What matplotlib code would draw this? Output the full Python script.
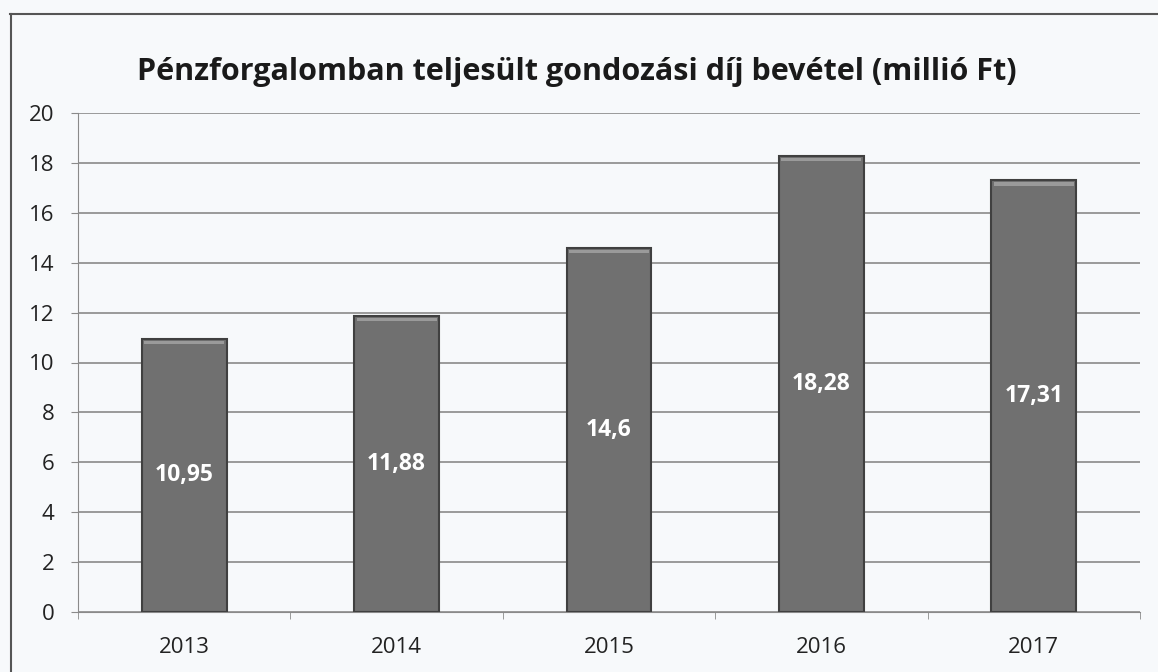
import matplotlib
matplotlib.use("Agg")
import matplotlib.pyplot as plt
from matplotlib.patches import Rectangle

years = ["2013", "2014", "2015", "2016", "2017"]
values = [10.95, 11.88, 14.6, 18.28, 17.31]
labels = ["10,95", "11,88", "14,6", "18,28", "17,31"]
yticks = [0, 2, 4, 6, 8, 10, 12, 14, 16, 18, 20]

plt.rcParams['font.family'] = ['Open Sans', 'DejaVu Sans']
bg = '#f7f9fb'
fig = plt.figure(figsize=(11.58, 6.72), dpi=100, facecolor=bg)
ax = fig.add_axes([78/1158, 1-612/672, (1140-78)/1158, (612-113)/672])
ax.set_facecolor(bg)

x = list(range(len(years)))
ax.set_xlim(-0.5, len(years) - 0.5)
ax.set_ylim(0, 20)
ax.set_yticks(yticks)
ax.set_yticklabels([str(t) for t in yticks], fontsize=16, color='#222222')
ax.yaxis.grid(True, color='#8a8a8a', linewidth=1.2)
ax.set_axisbelow(True)

bars = ax.bar(x, values, width=0.4, color='#707070', edgecolor='#404040', linewidth=1.5, zorder=3)
# light top bevel
for b in bars:
    ax.add_patch(Rectangle((b.get_x() + 0.012, b.get_height() - 0.22), b.get_width() - 0.024, 0.14,
                           facecolor='#9a9a9a', edgecolor='none', zorder=4))
for xi, v, lab in zip(x, values, labels):
    ax.text(xi, v / 2, lab, ha='center', va='center', color='white', fontsize=16.5,
            fontweight='bold', zorder=5)

ax.set_xticks(x)
ax.set_xticklabels(years, fontsize=16, color='#222222')
ax.tick_params(axis='x', length=0, pad=18)
ax.set_xticks([i - 0.5 for i in range(len(years) + 1)], minor=True)
ax.tick_params(axis='x', which='minor', length=5, color='#8a8a8a')
ax.tick_params(axis='y', length=5, color='#8a8a8a', pad=12)

for s in ['top', 'right']:
    ax.spines[s].set_visible(False)
ax.spines['left'].set_color('#8a8a8a')
ax.spines['bottom'].set_color('#8a8a8a')

fig.text(577/1158, 1-72/672, "Pénzforgalomban teljesült gondozási díj bevétel (millió Ft)",
         ha='center', va='center', fontsize=22, fontweight='bold', color='#1a1a1a')

# outer frame
fig.add_artist(plt.Line2D([10/1158, 1.0], [1-14/672, 1-14/672], transform=fig.transFigure,
                          color='#555555', linewidth=1.5))
fig.add_artist(plt.Line2D([11/1158, 11/1158], [0, 1-14/672], transform=fig.transFigure,
                          color='#555555', linewidth=1.5))

fig.savefig("out.png", dpi=100, facecolor=bg)
